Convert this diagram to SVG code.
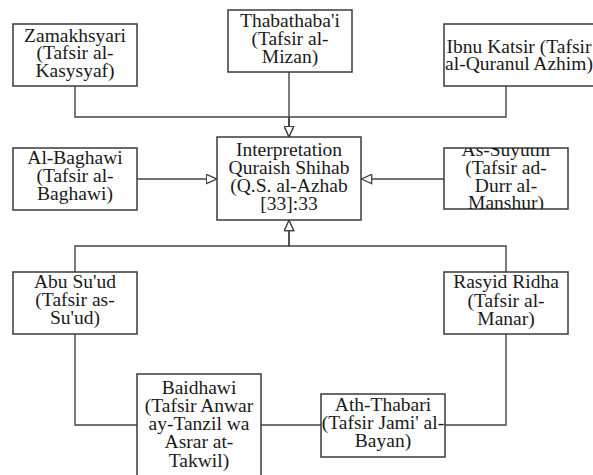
<svg xmlns="http://www.w3.org/2000/svg" width="593" height="475" viewBox="0 0 593 475">
<defs>
<style>
.box{fill:#fff;stroke:#3a3a3a;stroke-width:1.5}
.lbl{font-family:"Liberation Serif","Times New Roman",serif;font-size:19.5px;fill:#1a1a1a;text-anchor:middle}
.con{fill:none;stroke:#444;stroke-width:1.4}
</style>
<marker id="tri" viewBox="0 0 12 11" refX="11.5" refY="5.5" markerWidth="12" markerHeight="11" markerUnits="userSpaceOnUse" orient="auto">
<path d="M0.8,0.8 L11.2,5.5 L0.8,10.2 Z" fill="#fff" stroke="#444" stroke-width="1.3"/>
</marker>
<clipPath id="clipSuy"><rect x="444" y="148" width="124" height="61"/></clipPath>
</defs>
<rect width="593" height="475" fill="#fff"/>
<g id="connectors">
<path class="con" d="M75,86 V117 H289 V137" marker-end="url(#tri)"/>
<path class="con" d="M289,72 V137" marker-end="url(#tri)"/>
<path class="con" d="M506,86 V117 H289 V137" marker-end="url(#tri)"/>
<path class="con" d="M137,179 H217" marker-end="url(#tri)"/>
<path class="con" d="M444,179 H361" marker-end="url(#tri)"/>
<path class="con" d="M75,272 V246 H289 V220" marker-end="url(#tri)"/>
<path class="con" d="M506,272 V246 H289 V220" marker-end="url(#tri)"/>
<path class="con" d="M75,334 V425 H137"/>
<path class="con" d="M261,425 H321"/>
<path class="con" d="M445,425 H506 V334"/>
</g>
<g id="zamakhsyari">
<rect class="box" x="13" y="24" width="124" height="62"/>
<text class="lbl"><tspan x="75" y="41.5">Zamakhsyari</tspan><tspan x="75" y="59">(Tafsir al-</tspan><tspan x="75" y="77">Kasysyaf)</tspan></text>
</g>
<g id="thabathabai">
<rect class="box" x="228" y="10" width="124" height="62"/>
<text class="lbl"><tspan x="290" y="27">Thabathaba'i</tspan><tspan x="290" y="45">(Tafsir al-</tspan><tspan x="290" y="63">Mizan)</tspan></text>
</g>
<g id="ibnu-katsir">
<rect class="box" x="444" y="24" width="152" height="62"/>
<text class="lbl"><tspan x="519" y="52.5">Ibnu Katsir (Tafsir</tspan><tspan x="519" y="70">al-Quranul Azhim)</tspan></text>
</g>
<g id="center">
<rect class="box" x="217" y="137" width="144" height="83"/>
<text class="lbl"><tspan x="289" y="155.5">Interpretation</tspan><tspan x="289" y="173.5">Quraish Shihab</tspan><tspan x="289" y="191.5">(Q.S. al-Azhab</tspan><tspan x="289" y="209.5">[33]:33</tspan></text>
</g>
<g id="al-baghawi">
<rect class="box" x="13" y="148" width="124" height="62"/>
<text class="lbl"><tspan x="75" y="163.5">Al-Baghawi</tspan><tspan x="75" y="181.5">(Tafsir al-</tspan><tspan x="75" y="199.5">Baghawi)</tspan></text>
</g>
<g id="as-suyuthi">
<rect class="box" x="444" y="148" width="124" height="61"/>
<text class="lbl" clip-path="url(#clipSuy)"><tspan x="506" y="155.5">As-Suyuthi</tspan><tspan x="506" y="173.5">(Tafsir ad-</tspan><tspan x="506" y="191.5">Durr al-</tspan><tspan x="506" y="208.5">Manshur)</tspan></text>
</g>
<g id="abu-suud">
<rect class="box" x="13" y="272" width="124" height="62"/>
<text class="lbl"><tspan x="75" y="287.5">Abu Su'ud</tspan><tspan x="75" y="305.5">(Tafsir as-</tspan><tspan x="75" y="323.5">Su'ud)</tspan></text>
</g>
<g id="rasyid-ridha">
<rect class="box" x="444" y="272" width="124" height="62"/>
<text class="lbl"><tspan x="506" y="288">Rasyid Ridha</tspan><tspan x="506" y="306.5">(Tafsir al-</tspan><tspan x="506" y="325">Manar)</tspan></text>
</g>
<g id="baidhawi">
<rect class="box" x="137" y="374" width="124" height="104"/>
<text class="lbl"><tspan x="199" y="393.5">Baidhawi</tspan><tspan x="199" y="411.5">(Tafsir Anwar</tspan><tspan x="199" y="430">ay-Tanzil wa</tspan><tspan x="199" y="448">Asrar at-</tspan><tspan x="199" y="466.5">Takwil)</tspan></text>
</g>
<g id="ath-thabari">
<rect class="box" x="321" y="394" width="124" height="63"/>
<text class="lbl"><tspan x="383" y="410.5">Ath-Thabari</tspan><tspan x="383" y="428.5">(Tafsir Jami' al-</tspan><tspan x="383" y="446.5">Bayan)</tspan></text>
</g>
</svg>
